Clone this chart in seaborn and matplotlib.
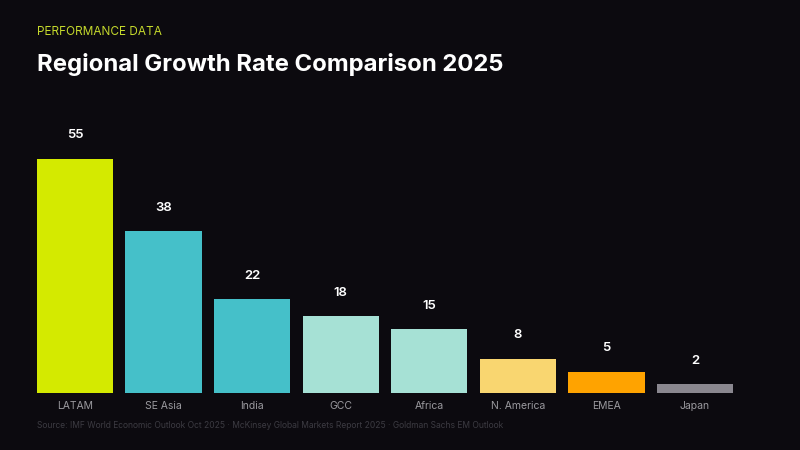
import pandas as pd
import seaborn as sns
import matplotlib.pyplot as plt

# chart data
regions = ["LATAM", "SE Asia", "India", "GCC", "Africa", "N. America", "EMEA", "Japan"]
growth = [55, 38, 22, 18, 15, 8, 5, 2]
bar_colors = ["#d4ea00", "#45c0c9", "#45c0c9", "#a6e1d5", "#a6e1d5", "#f9d670", "#ffa300", "#8a878f"]

bg = "#0c0a0f"
sns.set_theme(style="dark")
plt.rcParams["font.family"] = ["Inter", "DejaVu Sans"]

df = pd.DataFrame({"region": regions, "growth": growth})

fig = plt.figure(figsize=(8, 4.5), dpi=100, facecolor=bg)
ax = fig.add_axes([30.7 / 800, 1 - 393 / 450, 708.6 / 800, 234 / 450])
ax.set_facecolor(bg)

sns.barplot(data=df, x="region", y="growth", hue="region", palette=bar_colors,
            width=0.86, legend=False, ax=ax, saturation=1, linewidth=0)

ax.set_ylim(0, 55)
ax.set_xlim(-0.5, len(regions) - 0.5)
ax.set_xlabel("")
ax.set_ylabel("")
ax.set_yticks([])
ax.tick_params(axis="x", colors="#9a999e", labelsize=7.5, length=0, pad=6)
for s in ax.spines.values():
    s.set_visible(False)
ax.grid(False)

# value labels above bars
for i, v in enumerate(growth):
    ax.annotate(str(v), (i, v), xytext=(0, 17), textcoords="offset points",
                ha="center", va="center", color="white", fontsize=9.5,
                fontweight="semibold", annotation_clip=False)

fig.text(37 / 800, 1 - 32 / 450, "PERFORMANCE DATA", color="#c5d92c",
         fontsize=8.5, va="center", ha="left")
fig.text(37 / 800, 1 - 64 / 450, "Regional Growth Rate Comparison 2025", color="white",
         fontsize=17.2, fontweight="bold", va="center", ha="left")
fig.text(37 / 800, 1 - 425 / 450,
         "Source: IMF World Economic Outlook Oct 2025 · McKinsey Global Markets Report 2025 · Goldman Sachs EM Outlook",
         color="#3c3b42", fontsize=6.1, va="center", ha="left")

fig.savefig("out.png", dpi=100, facecolor=bg)
